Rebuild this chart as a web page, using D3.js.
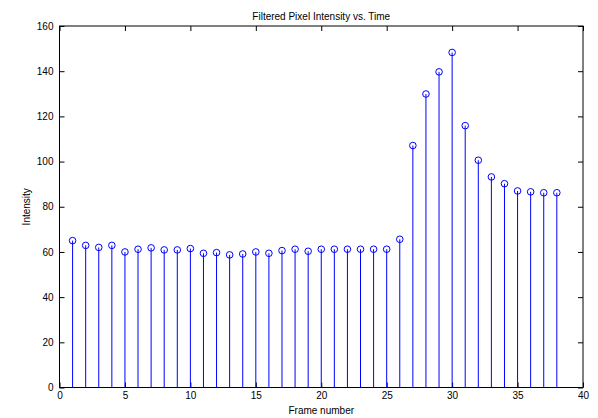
<!DOCTYPE html>
<html>
<head>
<meta charset="utf-8">
<script src="https://cdn.jsdelivr.net/npm/d3@7"></script>
<style>
  body { margin: 0; background: #fff; }
  text { font-family: "Liberation Sans", Arial, sans-serif; font-size: 10px; fill: #000; }
</style>
</head>
<body>
<div id="chart"></div>
<script>
// data
var frames = [1, 2, 3, 4, 5, 6, 7, 8, 9, 10, 11, 12, 13, 14, 15, 16, 17, 18, 19,
  20, 21, 22, 23, 24, 25, 26, 27, 28, 29, 30, 31, 32, 33, 34, 35, 36, 37, 38];
var intensity = [65.0, 62.9, 62.0, 62.9, 60.0, 61.2, 61.8, 60.9, 60.9, 61.5, 59.4, 59.7, 58.7,
  59.1, 60.0, 59.4, 60.6, 61.2, 60.3, 61.2, 61.2, 61.2, 61.2, 61.2, 61.2, 65.6,
  107.1, 129.9, 139.7, 148.3, 115.9, 100.6, 93.2, 90.2, 87.0, 86.6, 86.2, 86.2];
var xTicks = [0, 5, 10, 15, 20, 25, 30, 35, 40];
var yTicks = [0, 20, 40, 60, 80, 100, 120, 140, 160];

var width = 598;
var height = 418;
var margin = { top: 26, right: 15, bottom: 30.5, left: 59.5 };
var plotW = width - margin.left - margin.right;
var plotH = height - margin.top - margin.bottom;

var svg = d3.select('#chart')
  .append('svg')
  .attr('width', width)
  .attr('height', height);

var g = svg.append('g')
  .attr('transform', 'translate(' + margin.left + ',' + margin.top + ')');

var x = d3.scaleLinear().domain([0, 40]).range([0, plotW]);
var y = d3.scaleLinear().domain([0, 160]).range([plotH, 0]);

// axes, matlab style ticks inside
function styleAxis(sel) {
  sel.select('.domain').remove();
  sel.selectAll('line').attr('stroke', '#000');
}
g.append('g').attr('transform', 'translate(0,' + plotH + ')')
  .call(d3.axisBottom(x).tickValues(xTicks).tickSizeInner(-5).tickSizeOuter(0).tickPadding(4))
  .call(styleAxis);
g.append('g')
  .call(d3.axisTop(x).tickValues(xTicks).tickSizeInner(-5).tickSizeOuter(0).tickFormat(''))
  .call(styleAxis);
g.append('g')
  .call(d3.axisLeft(y).tickValues(yTicks).tickSizeInner(-5).tickSizeOuter(0).tickPadding(6))
  .call(styleAxis);
g.append('g').attr('transform', 'translate(' + plotW + ',0)')
  .call(d3.axisRight(y).tickValues(yTicks).tickSizeInner(-5).tickSizeOuter(0).tickFormat(''))
  .call(styleAxis);

g.selectAll('text').attr('font-size', 10).attr('font-family', null);

// stems
g.selectAll('line.stem')
  .data(frames).enter()
  .append('line')
  .attr('class', 'stem')
  .attr('x1', function (d) { return x(d); })
  .attr('x2', function (d) { return x(d); })
  .attr('y1', y(0))
  .attr('y2', function (d, i) { return y(intensity[i]); })
  .attr('stroke', '#0000ff')
  .attr('stroke-width', 1);

// markers
g.selectAll('circle')
  .data(frames).enter()
  .append('circle')
  .attr('cx', function (d) { return x(d); })
  .attr('cy', function (d, i) { return y(intensity[i]); })
  .attr('r', 3.3)
  .attr('fill', 'none')
  .attr('stroke', '#0000ff')
  .attr('stroke-width', 1);

// box
g.append('rect')
  .attr('width', plotW)
  .attr('height', plotH)
  .attr('fill', 'none')
  .attr('stroke', '#000')
  .attr('stroke-width', 1);

// titles
svg.append('text')
  .attr('x', margin.left + plotW / 2)
  .attr('y', 20)
  .attr('text-anchor', 'middle')
  .text('Filtered Pixel Intensity vs. Time');
svg.append('text')
  .attr('x', margin.left + plotW / 2)
  .attr('y', 414)
  .attr('text-anchor', 'middle')
  .text('Frame number');
svg.append('text')
  .attr('transform', 'translate(30,' + (margin.top + plotH / 2) + ') rotate(-90)')
  .attr('text-anchor', 'middle')
  .text('Intensity');
</script>
</body>
</html>
